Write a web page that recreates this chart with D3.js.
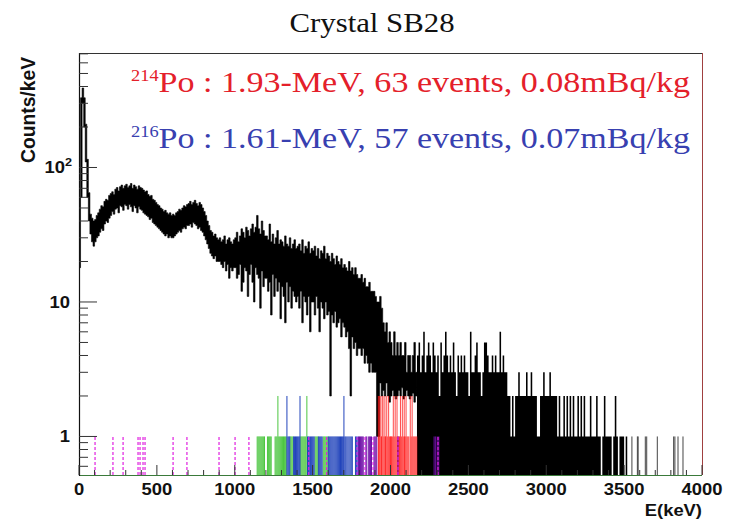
<!DOCTYPE html>
<html><head><meta charset="utf-8">
<script src="https://cdn.jsdelivr.net/npm/d3@7"></script>
<style>body{margin:0;background:#fff} svg{display:block}</style>
</head><body>
<svg id="c" width="736" height="521"></svg>
<script>
// ---------- data ----------
const binWidth = 10; // keV per bin of the envelope arrays
// upper / lower extent of the fluctuating black spectrum (counts/keV), 0 - 2170 keV
const bandHi = [
 60,330,390,330,210,115,65,45,42,40,
 41,44,46,49,52,51,56,58,57,62,
 64,66,63,69,71,67,72,74,70,73,
 75,71,73,76,70,74,72,69,73,71,
 70,68,66,67,63,61,62,58,57,55,
 53,52,50,49,47,48,46,45,46,44,
 45,44,46,47,49,48,50,52,51,53,
 54,56,53,55,57,54,52,55,53,50,
 47,44,40,37,34,33,31,32,30,29,
 30,28,29,31,27,29,30,28,27,29,
 30,33,28,31,35,33,30,36,34,31,
 35,38,33,36,44,35,32,40,34,31,
 31,29,38,28,32,27,30,34,27,29,
 28,26,31,27,26,30,25,27,29,25,
 26,27,24,29,23,26,25,28,23,25,
 24,26,22,25,21,24,23,26,21,23,
 22,20,23,21,19,22,20,19,21,18,
 19,18,17,20,17,18,16,18,16,15,
 15,16,14,15,13,13,14,12,12,12,
 11,10,10,11,9,7,6,7,5,6,
 5,4,6,4,5,4,5,4,4,5,
 3,4,4,3,4,5,3
];
const bandLo = [
 18,60,300,200,110,60,40,32,28,26,
 28,30,31,33,35,34,38,40,39,42,
 44,47,45,49,50,46,52,51,48,53,
 52,49,53,51,47,52,50,46,51,49,
 48,46,45,44,43,41,42,39,38,37,
 36,35,34,33,32,31,32,30,31,30,
 30,31,32,33,34,33,35,36,35,37,
 37,38,36,39,38,37,35,36,34,33,
 31,29,27,25,23,22,21,22,20,20,
 20,19,18,20,17,19,15,18,17,18,
 18,15,16,19,12,14,18,17,11,16,
 19,14,10,18,16,15,9,17,13,15,
 15,12,14,8,16,11,15,12,14,7.5,
 13,11,7,14,10,13,9,12,11,10,
 11,9,12,7,11,10,8,11,6,10,
 10,8,11,9,6,10,9,7.5,10,8,
 8.5,2,8,7,8.5,6.5,7,7.5,5.5,7,
 6.5,5.5,6,4.5,2,5.5,4.5,5,4,4.5,
 4.5,4,4.5,3.5,4,3.5,3,3.5,3,3,
 3,1,1,2.5,2,2.2,2,2.5,2,1.8,
 2,2.2,2,1.9,2,2.2,2,2.3,1.9,2,
 2.2,2,1.9,2,2.1,1.8,2
];
// sparse high-energy part: maximum counts/keV per 10 keV, 2170 - 3520 keV
const sparseStart = 2170;
const sparseMax = [
 4,5,3,4,6,3,4,5,4,3,
 5,4,3,4,2,5,3,4,6,4,
 3,4,3,5,3,2,4,3,4,3,
 4,3,3,2,6,3,3,4,5,3,
 3,2,3,5,5,4,3,3,4,3,
 4,3,3,6,3,4,3,3,2,2,
 1,2,1,2,2,3,2,2,2,2,
 3,2,2,3,2,2,2,1,1,2,
 2,3,2,2,2,3,2,2,2,2,
 1,2,1,1,2,1,2,1,2,1,
 2,1,1,2,1,2,1,2,1,1,
 1,2,1,1,1,2,1,1,0,1,
 2,1,1,1,1,0,1,2,1,0,
 1,1,1,0,1
];
const tailEvents = [3550,3585,3590,3636,3645,3713,3818,3826,3846,3878];
// selected alpha-candidate events (keV)
const magentaEvents = [103,218,283,379,392,411,424,604,693,899,1002,1091,1475,1590,1785,1836,1888,2048,2305];
const greenEvents = [1144,1150,1156,1162,1168,1174,1180,1186,1191,1210,1216,1222,1228,1234,
 1259,1265,1271,1277,1277,1283,1289,1295,1301,1307,1313,1319,1325,1331,
 1356,1362,1368,1374,1420,1426,1432,1438,1444,1450,1456,1463,1463,
 1516,1522,1528,1534,1568,1574,1580,1586,1592,1598];
const blueEvents = [1335,1335,1341,1347,1353,1378,1384,1390,1396,1402,1408,1414,1419,1419,
 1467,1473,1479,1486,1492,1498,1504,1510,1537,1543,1549,1555,1561,
 1601,1607,1613,1619,1625,1631,1637,1643,1649,1655,1661,1667,1673,1679,1685,1691,1697,
 1701,1701,1707,1713,1720,1727,1734,1741,1748,1755,1775,1781,1790];
const violetEvents = [1795,1801,1807,1813,1819,1825,1842,1848,1860,1866,1872,1878,1894,1900,1906,1912,2045,2052,2280,2290,2300,2310];
const redEvents = [1922,1922,1925,1928,1928,1934,1934,1940,1943,1946,1946,1952,1952,1958,1964,1964,1967,1970,1976,1976,
 1982,1988,1988,1994,2000,2003,2006,2012,2018,2018,2024,2030,2030,2036,2042,2042,2054,2058,2064,2064,
 2070,2076,2076,2082,2088,2088,2091,2094,2100,2100,2106,2112,2118,2127,2127,2133,2139,2139,2145,2151,2157,2163,2169];
const xTickValues = [0,500,1000,1500,2000,2500,3000,3500,4000];
const yTickValues = [1,10,100];
const titleText = "Crystal SB28";
const po214 = {sup:"214", text:"Po : 1.93-MeV, 63 events, 0.08mBq/kg"};
const po216 = {sup:"216", text:"Po : 1.61-MeV, 57 events, 0.07mBq/kg"};

// ---------- layout ----------
const L = 79, R = 702, T = 53, B = 475;
const SX = 1.15; // horizontal stretch of the original picture
const svg = d3.select("#c");
const x = d3.scaleLinear().domain([0,4000]).range([L,R]);
const y = d3.scaleLog().domain([0.517,710]).range([B,T]);
const sans = "'Liberation Sans', Arial, Helvetica, sans-serif";
const serif = "'Liberation Serif', 'Times New Roman', Times, serif";

svg.append("defs").append("clipPath").attr("id","clip")
  .append("rect").attr("x",L).attr("y",T).attr("width",R-L).attr("height",B-T);
const plot = svg.append("g").attr("clip-path","url(#clip)");

// black spectrum band
const band = bandHi.map((h,i)=>({e:i*binWidth, hi:h, lo:bandLo[i]}));
band.push({e:band.length*binWidth, hi:bandHi[bandHi.length-1], lo:bandLo[bandLo.length-1]});
plot.append("path").datum(band)
  .attr("d", d3.area().x(d=>x(d.e)).y0(d=>y(d.lo)).y1(d=>y(d.hi)).curve(d3.curveStepAfter))
  .attr("fill","#000").attr("stroke","#000").attr("stroke-width",0.6);

// sparse part
const sp = sparseMax.map((v,i)=>({e:sparseStart+i*binWidth, v}));
sp.push({e:sparseStart+sparseMax.length*binWidth, v:0});
plot.append("path").datum(sp)
  .attr("d", d3.area().x(d=>x(d.e)).y0(B).y1(d=>d.v>0?y(d.v):B).curve(d3.curveStepAfter))
  .attr("fill","#000");
plot.selectAll(".tail").data(tailEvents).join("line")
  .attr("x1",d=>x(d)).attr("x2",d=>x(d)).attr("y1",B).attr("y2",y(1))
  .attr("stroke","#444").attr("stroke-width",1);

function drawEvents(list, color, dash, width, op){
  const counts = Array.from(d3.rollup(list, v=>v.length, d=>d));
  plot.append("g").selectAll("line").data(counts).join("line")
    .attr("x1",d=>x(d[0])).attr("x2",d=>x(d[0]))
    .attr("y1",B).attr("y2",d=>y(d[1]))
    .attr("stroke",color).attr("stroke-width",width).attr("stroke-opacity",op)
    .attr("stroke-dasharray",dash||null);
}
drawEvents(greenEvents,"#4cc640",null,1,1);
drawEvents(blueEvents,"#2244bb",null,1,1);
drawEvents(violetEvents,"#7010a8",null,1,1);
drawEvents(redEvents,"#ff1a1a",null,1,0.8);
drawEvents(magentaEvents,"#e020e0","3,2",1.2,1);

// frame
svg.append("line").attr("x1",L).attr("x2",R).attr("y1",T+0.5).attr("y2",T+0.5).attr("stroke","#333");
svg.append("line").attr("x1",R+0.5).attr("x2",R+0.5).attr("y1",T).attr("y2",B).attr("stroke","#a04040");
svg.append("line").attr("x1",L).attr("x2",R).attr("y1",B+0.5).attr("y2",B+0.5).attr("stroke","#3a7a3a");
svg.append("line").attr("x1",L+0.5).attr("x2",L+0.5).attr("y1",T).attr("y2",B+1).attr("stroke","#111").attr("stroke-width",1.2);

// x ticks
const g = svg.append("g").attr("stroke","#333").attr("stroke-width",1);
d3.range(0,4001,100).forEach(v=>{
  const len = v%500===0?10:5;
  g.append("line").attr("x1",x(v)).attr("x2",x(v)).attr("y1",B).attr("y2",B-len);
});
// y ticks
const minor = [0.6,0.7,0.8,0.9,2,3,4,5,6,7,8,9,20,30,40,50,60,70,80,90,200,300,400,500,600,700];
minor.forEach(v=>{ g.append("line").attr("x1",L).attr("x2",L+9).attr("y1",y(v)).attr("y2",y(v)); });
yTickValues.forEach(v=>{ g.append("line").attr("x1",L).attr("x2",L+18).attr("y1",y(v)).attr("y2",y(v)); });

// x labels
svg.selectAll(".xl").data(xTickValues).join("text")
  .attr("transform",d=>`translate(${x(d)},495) scale(${SX},1)`)
  .attr("text-anchor","middle").attr("font-family",sans).attr("font-weight","bold")
  .attr("font-size",16).attr("fill","#111").text(d=>d);
svg.append("text").attr("transform",`translate(${R},516) scale(${SX},1)`)
  .attr("text-anchor","end").attr("font-family",sans).attr("font-weight","bold")
  .attr("font-size",16).attr("fill","#111").text("E(keV)");

// y labels
yTickValues.forEach(v=>{
  const t = svg.append("text").attr("transform",`translate(${v===100?72:70},${y(v)+6})  scale(${SX},1)`)
    .attr("text-anchor","end").attr("font-family",sans).attr("font-weight","bold")
    .attr("font-size",16).attr("fill","#111");
  if(v===100){
    t.append("tspan").text("10");
    t.append("tspan").attr("font-size",11).attr("dy",-7).text(String(Math.log10(v)));
  } else t.text(String(v));
});
svg.append("text").attr("transform",`translate(35,57) scale(${SX},1) rotate(-90)`)
  .attr("text-anchor","end").attr("font-family",sans).attr("font-weight","bold")
  .attr("font-size",18).attr("textLength",106).attr("lengthAdjust","spacingAndGlyphs")
  .attr("fill","#111").text("Counts/keV");

// title
svg.append("text").attr("transform",`translate(372,32) scale(1.1,1)`)
  .attr("text-anchor","middle").attr("font-family",serif).attr("font-size",28)
  .attr("fill","#111").text(titleText);

// annotations
function annot(a, yb, color){
  const t = svg.append("text").attr("transform",`translate(131,${yb}) scale(${SX},1)`)
    .attr("font-family",serif).attr("fill",color);
  t.append("tspan").attr("font-size",16).attr("dy",-11.5).text(a.sup);
  t.append("tspan").attr("font-size",29.6).attr("dy",11.5).text(a.text);
}
annot(po214, 92, "#e4202a");
annot(po216, 148, "#3840b0");
</script>
</body></html>
